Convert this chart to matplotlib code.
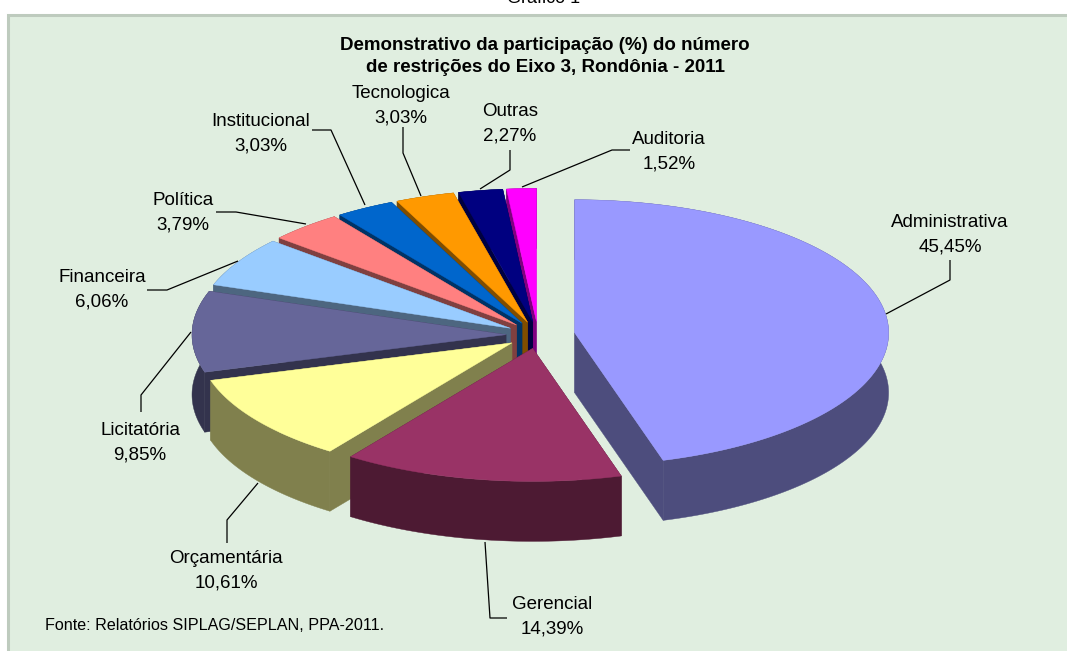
import numpy as np
import matplotlib
matplotlib.use("Agg")
import matplotlib.pyplot as plt
from matplotlib.patches import Polygon, Rectangle

plt.rcParams['font.family'] = ['Liberation Sans', 'DejaVu Sans']

categories = ["Administrativa", "Gerencial", "Orçamentária", "Licitatória", "Financeira",
              "Política", "Institucional", "Tecnologica", "Outras", "Auditoria"]
values = [45.45, 14.39, 10.61, 9.85, 6.06, 3.79, 3.03, 3.03, 2.27, 1.52]
value_labels = ["45,45%", "14,39%", "10,61%", "9,85%", "6,06%", "3,79%", "3,03%", "3,03%", "2,27%", "1,52%"]
top_colors = ["#9999FF", "#993366", "#FFFF99", "#666699", "#99CCFF",
              "#FF8080", "#0066CC", "#FF9900", "#000080", "#FF00FF"]
wall_colors = ["#4D4D7D", "#4D1A33", "#80804D", "#33334D", "#4D6680",
               "#804040", "#003366", "#804D00", "#000040", "#800080"]
explode_px = [37, 32, 32, 32, 32, 32, 32, 32, 32, 32]
draw_order = [9, 8, 7, 6, 5, 4, 3, 2, 0, 1]

label_pos = [(950, 235), (552, 617), (226, 571), (140, 443), (102, 290),
             (183, 213), (261, 134), (401, 106), (510, 124), (669, 152)]
leaders = [[(886, 314), (950, 280), (950, 260)],
           [(485, 542), (490, 618), (507, 618)],
           [(258, 483), (227, 520), (227, 543)],
           [(191, 332), (141, 395), (141, 412)],
           [(238, 261), (167, 290), (147, 290)],
           [(306, 224), (236, 212), (216, 212)],
           [(365, 205), (331, 130), (312, 130)],
           [(421, 196), (403, 153), (403, 127)],
           [(480, 189), (510, 170), (510, 150)],
           [(522, 187), (612, 150), (630, 150)]]

CX, CY, RX, RY, DEPTH = 538, 335, 314, 133, 60

fig = plt.figure(figsize=(10.67, 6.51), dpi=100, facecolor="white")
ax = fig.add_axes([0, 0, 1, 1])
ax.set_xlim(0, 1067)
ax.set_ylim(651, 0)
ax.axis("off")

ax.add_patch(Rectangle((8, 15), 1080, 660, facecolor="#E0EEE0", edgecolor="#BECBBE", lw=2.2, zorder=0))
ax.text(544, 3, "Gráfico 1", ha="center", va="baseline", fontsize=13, color="black", zorder=5)
ax.text(545, 45, "Demonstrativo da participação (%) do número", ha="center", va="center",
        fontsize=13.5, fontweight="bold", zorder=5)
ax.text(545, 68, "de restrições do Eixo 3, Rondônia - 2011", ha="center", va="center",
        fontsize=13.5, fontweight="bold", zorder=5)
ax.text(45, 626, "Fonte: Relatórios SIPLAG/SEPLAN, PPA-2011.", ha="left", va="center", fontsize=11.6, zorder=5)

fractions = np.array(values) / np.sum(values)
edges = np.concatenate([[0], np.cumsum(fractions)]) * 2 * np.pi

z = 2
for i in draw_order:
    a0, a1 = edges[i], edges[i + 1]
    mid = (a0 + a1) / 2
    ax0 = CX + explode_px[i] * np.sin(mid)
    ay0 = CY - explode_px[i] * (RY / RX) * np.cos(mid)
    t = np.linspace(a0, a1, 200)
    rim_x = ax0 + RX * np.sin(t)
    rim_y = ay0 - RY * np.cos(t)
    for ex, ey in ((rim_x[0], rim_y[0]), (rim_x[-1], rim_y[-1])):
        ax.add_patch(Polygon([(ax0, ay0), (ex, ey), (ex, ey + DEPTH), (ax0, ay0 + DEPTH)],
                             closed=True, facecolor=wall_colors[i], edgecolor=wall_colors[i], lw=0.3, zorder=z))
    wall = np.column_stack([np.r_[rim_x, rim_x[::-1]], np.r_[rim_y, rim_y[::-1] + DEPTH]])
    ax.add_patch(Polygon(wall, closed=True, facecolor=wall_colors[i], edgecolor=wall_colors[i], lw=0.3, zorder=z))
    top = np.column_stack([np.r_[ax0, rim_x], np.r_[ay0, rim_y]])
    ax.add_patch(Polygon(top, closed=True, facecolor=top_colors[i], edgecolor=top_colors[i], lw=0.3, zorder=z))
    z += 1

for pts in leaders:
    xs, ys = zip(*pts)
    ax.plot(xs, ys, color="black", lw=0.9, zorder=20, solid_capstyle="butt")

for name, val, (x, y) in zip(categories, value_labels, label_pos):
    ax.text(x, y, name + "\n" + val, ha="center", va="center", fontsize=13.5,
            linespacing=1.6, color="black", zorder=21)

fig.savefig("out.png", dpi=100)
